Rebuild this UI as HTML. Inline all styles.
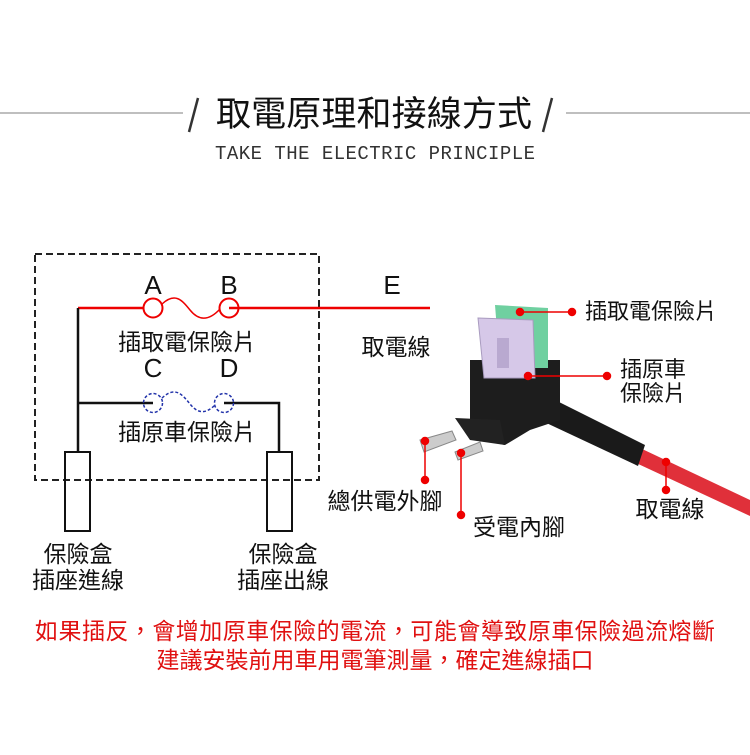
<!DOCTYPE html>
<html><head><meta charset="utf-8"><style>
body{margin:0;background:#fff;}
svg text{font-family:"Liberation Sans","Noto Sans CJK TC",sans-serif;}
</style></head><body>
<svg width="750" height="750" viewBox="0 0 750 750" xmlns="http://www.w3.org/2000/svg">
<rect width="750" height="750" fill="#fff"/>
<!-- header -->
<line x1="0" y1="113" x2="183" y2="113" stroke="#aaa" stroke-width="1.5"/>
<line x1="566" y1="113" x2="750" y2="113" stroke="#aaa" stroke-width="1.5"/>
<line x1="198" y1="98" x2="189" y2="132" stroke="#333" stroke-width="2.5"/>
<line x1="552" y1="98" x2="543" y2="132" stroke="#333" stroke-width="2.5"/>
<text x="374" y="126" font-size="35" text-anchor="middle" fill="#111" textLength="316">取電原理和接線方式</text>
<text x="375" y="159" font-size="19" text-anchor="middle" fill="#333" style="font-family:'Liberation Mono',monospace" textLength="320">TAKE THE ELECTRIC PRINCIPLE</text>

<!-- dashed box -->
<rect x="35" y="254" width="284" height="226" fill="none" stroke="#222" stroke-width="2" stroke-dasharray="7,4"/>
<line x1="78" y1="308" x2="143" y2="308" stroke="#e00" stroke-width="2.5"/>
<circle cx="153" cy="308" r="9.5" fill="none" stroke="#e00" stroke-width="2"/>
<circle cx="229" cy="308" r="9.5" fill="none" stroke="#e00" stroke-width="2"/>
<path d="M162,304 C175,292 182,300 190,310 C198,320 208,322 220,309" fill="none" stroke="#e00" stroke-width="1.5"/>
<line x1="229" y1="308" x2="430" y2="308" stroke="#e00" stroke-width="2.5"/>
<text x="153" y="294" font-size="26" text-anchor="middle" fill="#111">A</text>
<text x="229" y="294" font-size="26" text-anchor="middle" fill="#111">B</text>
<text x="392" y="294" font-size="26" text-anchor="middle" fill="#111">E</text>
<text x="187" y="350" font-size="23" text-anchor="middle" fill="#111">插取電保險片</text>
<text x="396" y="355" font-size="23" text-anchor="middle" fill="#111">取電線</text>
<text x="153" y="377" font-size="26" text-anchor="middle" fill="#111">C</text>
<text x="229" y="377" font-size="26" text-anchor="middle" fill="#111">D</text>
<polyline points="78,308 78,452" fill="none" stroke="#111" stroke-width="2.5"/>
<line x1="78" y1="403" x2="153" y2="403" stroke="#111" stroke-width="2.5"/>
<polyline points="224,403 279,403 279,452" fill="none" stroke="#111" stroke-width="2.5"/>
<circle cx="153" cy="403" r="9.5" fill="none" stroke="#2233aa" stroke-width="1.5" stroke-dasharray="3,2"/>
<circle cx="224" cy="403" r="9.5" fill="none" stroke="#2233aa" stroke-width="1.5" stroke-dasharray="3,2"/>
<path d="M162,398 C175,386 182,394 190,404 C198,414 206,414 215,405" fill="none" stroke="#2233aa" stroke-width="1.5" stroke-dasharray="3,2"/>
<text x="187" y="440" font-size="23" text-anchor="middle" fill="#111">插原車保險片</text>
<rect x="65" y="452" width="25" height="79" fill="none" stroke="#111" stroke-width="2"/>
<rect x="267" y="452" width="25" height="79" fill="none" stroke="#111" stroke-width="2"/>
<text x="78" y="562" font-size="23" text-anchor="middle" fill="#111">保險盒</text>
<text x="78" y="588" font-size="23" text-anchor="middle" fill="#111">插座進線</text>
<text x="283" y="562" font-size="23" text-anchor="middle" fill="#111">保險盒</text>
<text x="283" y="588" font-size="23" text-anchor="middle" fill="#111">插座出線</text>

<!-- product photo approximation -->
<path d="M640,448 L750,500 L750,516 L634,462 Z" fill="#e0303a"/>
<path d="M545,395 L645,445 L638,466 L540,420 Z" fill="#1a1a1a"/>
<path d="M470,360 L560,360 L560,420 L530,430 L505,445 L480,440 L470,420 Z" fill="#1d1d1d"/>
<path d="M455,418 L500,420 L505,445 L470,440 Z" fill="#222"/>
<path d="M495,305 L548,308 L548,368 L500,368 Z" fill="#6fd0a0"/>
<path d="M478,318 L533,320 L535,378 L484,378 Z" fill="#d6c8e8" stroke="#a99bbf"/>
<rect x="497" y="338" width="12" height="30" fill="#b9a9d0"/>
<path d="M420,440 L452,431 L456,440 L424,452 Z" fill="#ccc" stroke="#888"/>
<path d="M455,452 L480,442 L483,451 L458,460 Z" fill="#ccc" stroke="#888"/>
<g stroke="#e00" stroke-width="1.5" fill="#e00">
<line x1="520" y1="312" x2="572" y2="312"/><circle cx="520" cy="312" r="3.5"/><circle cx="572" cy="312" r="3.5"/>
<line x1="528" y1="376" x2="607" y2="376"/><circle cx="528" cy="376" r="3.5"/><circle cx="607" cy="376" r="3.5"/>
<line x1="425" y1="441" x2="425" y2="480"/><circle cx="425" cy="441" r="3.5"/><circle cx="425" cy="480" r="3.5"/>
<line x1="461" y1="453" x2="461" y2="515"/><circle cx="461" cy="453" r="3.5"/><circle cx="461" cy="515" r="3.5"/>
<line x1="666" y1="462" x2="666" y2="490"/><circle cx="666" cy="462" r="3.5"/><circle cx="666" cy="490" r="3.5"/>
</g>
<text x="585" y="319" font-size="22" fill="#111">插取電保險片</text>
<text x="620" y="377" font-size="22" fill="#111">插原車</text>
<text x="620" y="401" font-size="22" fill="#111">保險片</text>
<text x="385" y="509" font-size="23" text-anchor="middle" fill="#111">總供電外腳</text>
<text x="519" y="535" font-size="23" text-anchor="middle" fill="#111">受電內腳</text>
<text x="670" y="517" font-size="23" text-anchor="middle" fill="#111">取電線</text>

<text x="375" y="639" font-size="23" text-anchor="middle" fill="#e01010" textLength="680">如果插反，會增加原車保險的電流，可能會導致原車保險過流熔斷</text>
<text x="375" y="668" font-size="23" text-anchor="middle" fill="#e01010">建議安裝前用車用電筆測量，確定進線插口</text>
</svg>
</body></html>
